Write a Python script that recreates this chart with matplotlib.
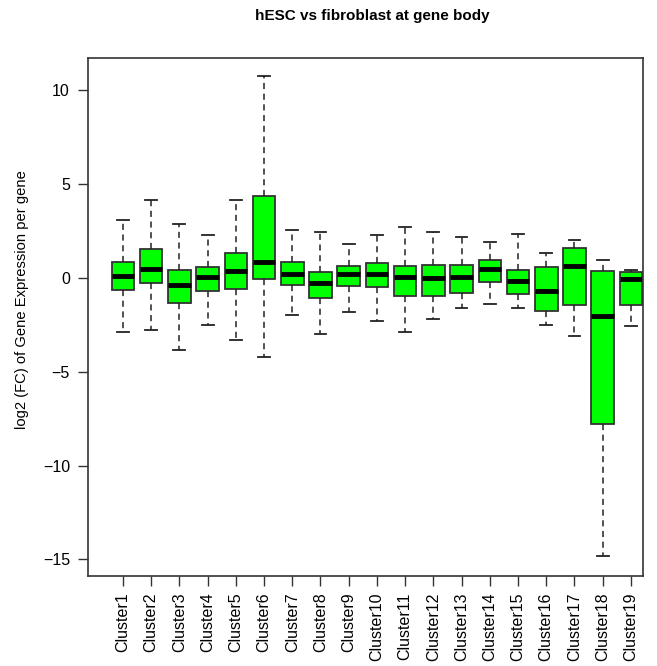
import matplotlib
matplotlib.use("Agg")
import matplotlib.pyplot as plt

categories = [f"Cluster{i}" for i in range(1, 20)]
whislo = [-2.86, -2.79, -3.84, -2.49, -3.30, -4.19, -1.97, -3.00, -1.83, -2.27,
          -2.86, -2.19, -1.58, -1.37, -1.58, -2.49, -3.07, -14.82, -2.56]
q1 = [-0.62, -0.27, -1.31, -0.71, -0.57, -0.03, -0.36, -1.08, -0.43, -0.50,
      -0.94, -0.94, -0.80, -0.20, -0.87, -1.76, -1.46, -7.76, -1.46]
med = [0.12, 0.48, -0.36, 0.04, 0.39, 0.87, 0.21, -0.27, 0.21, 0.21,
       0.04, 0.00, 0.04, 0.48, -0.18, -0.69, 0.64, -2.03, -0.03]
q3 = [0.87, 1.55, 0.43, 0.57, 1.31, 4.39, 0.87, 0.34, 0.64, 0.82,
      0.64, 0.71, 0.71, 0.96, 0.43, 0.57, 1.62, 0.36, 0.34]
whishi = [3.09, 4.14, 2.88, 2.27, 4.14, 10.77, 2.56, 2.43, 1.83, 2.27,
          2.72, 2.43, 2.20, 1.92, 2.36, 1.31, 2.02, 0.94, 0.41]
yticks = [10, 5, 0, -5, -10, -15]

plt.rcParams['font.family'] = ['Liberation Sans', 'DejaVu Sans']
fig = plt.figure(figsize=(6.57, 6.66), dpi=100)
ax = fig.add_axes([88/657, 90/666, (643-88)/657, (576-58)/666])

stats = []
for i, c in enumerate(categories):
    stats.append(dict(label=c, whislo=whislo[i], q1=q1[i], med=med[i], q3=q3[i], whishi=whishi[i]))

pos = list(range(1, len(categories) + 1))
ax.bxp(stats, positions=pos, widths=0.8, showfliers=False, patch_artist=True,
       boxprops=dict(facecolor='#00ff00', edgecolor='#333333', linewidth=1.3),
       medianprops=dict(color='black', linewidth=3.5, solid_capstyle='butt'),
       whiskerprops=dict(color='#222222', linewidth=1.1, linestyle=(0, (4, 3))),
       capprops=dict(color='#222222', linewidth=1.3),
       capwidths=0.42)

ax.set_xlim(-0.24, 19.43)
ax.set_ylim(-15.88, 11.73)
ax.set_yticks(yticks)
ax.set_yticklabels([str(v).replace('-', '\u2212') for v in yticks], fontsize=11.5)
ax.set_xticks(pos)
ax.set_xticklabels(categories, rotation=90, fontsize=11.5)
ax.tick_params(axis='both', length=7, width=1, color='#333333', direction='out', pad=6)
ax.tick_params(axis='x', pad=5)
for s in ax.spines.values():
    s.set_color('#333333')
    s.set_linewidth(1.2)

fig.text(22/657, 1 - 300/666, 'log2 (FC) of Gene Expression per gene', rotation=90,
         ha='center', va='center', fontsize=10.6)
fig.text(372/657, 1 - 16/666, 'hESC vs fibroblast at gene body', ha='center', va='center',
         fontsize=11, fontweight='bold')

fig.savefig('out.png', dpi=100)
